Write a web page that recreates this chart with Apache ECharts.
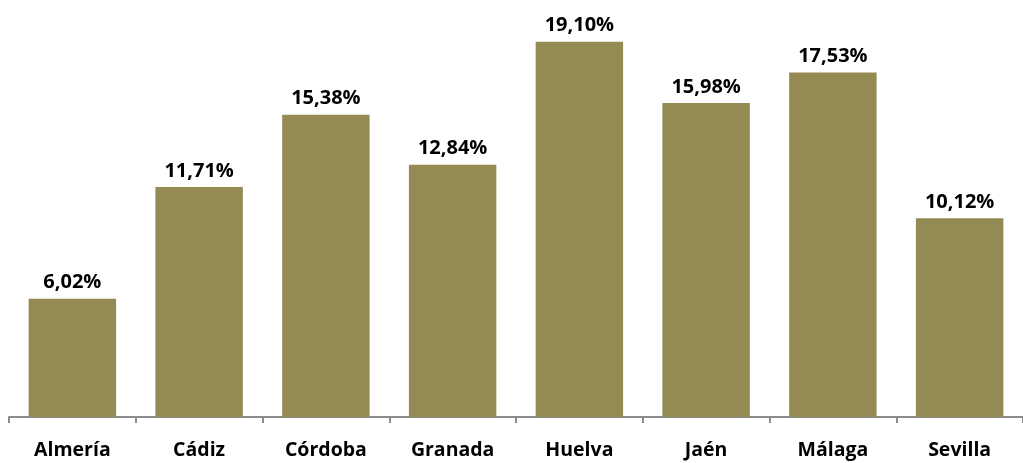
<!DOCTYPE html>
<html>
<head>
<meta charset="utf-8">
<script src="https://cdn.jsdelivr.net/npm/echarts@6/dist/echarts.min.js"></script>
<style>
  html, body { margin: 0; padding: 0; background: #fff; }
  #main { width: 1023px; height: 463px; }
</style>
</head>
<body>
<div id="main"></div>
<script>
// provinces and their share (%)
const provincias = ['Almería', 'Cádiz', 'Córdoba', 'Granada', 'Huelva', 'Jaén', 'Málaga', 'Sevilla'];
const valores = [6.02, 11.71, 15.38, 12.84, 19.10, 15.98, 17.53, 10.12];

const chart = echarts.init(document.getElementById('main'));
chart.setOption({
  animation: false,
  grid: { left: 9, right: -4, top: 24, bottom: 46 },
  xAxis: {
    type: 'category',
    data: provincias,
    axisLine: { lineStyle: { color: '#8c8c8c', width: 2 } },
    axisTick: { show: true, length: 6, lineStyle: { color: '#8c8c8c', width: 2 } },
    axisLabel: {
      color: '#000',
      fontFamily: 'Open Sans',
      fontWeight: 'bold',
      fontSize: 19.5,
      margin: 23
    }
  },
  yAxis: {
    type: 'value',
    min: 0,
    max: 20,
    show: false
  },
  series: [{
    type: 'bar',
    data: valores,
    barWidth: '69%',
    itemStyle: { color: '#948A54' },
    label: {
      show: true,
      position: 'top',
      distance: 6,
      color: '#000',
      fontFamily: 'Open Sans',
      fontWeight: 'bold',
      fontSize: 20,
      formatter: p => p.value.toFixed(2).replace('.', ',') + '%'
    }
  }]
});
</script>
</body>
</html>
